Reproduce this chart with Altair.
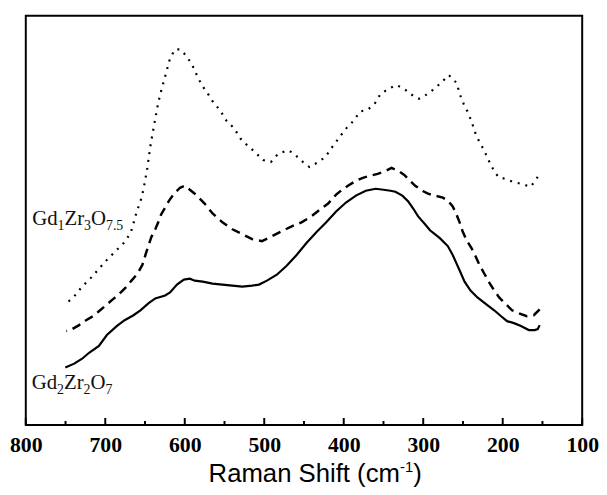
import altair as alt
import pandas as pd

# ---- data (Raman shift in cm-1, intensity in arbitrary units) ----
solid_shift = [750.3, 739.1, 729.1, 720.4, 708.0, 698.0, 685.6, 675.7, 664.5, 655.8, 645.8, 637.1, 624.7, 618.5,
               609.8, 601.1, 593.6, 587.4, 577.4, 565.0, 552.6, 540.1, 527.7, 515.3, 506.6, 496.6, 484.2, 471.8,
               459.3, 446.9, 434.5, 422.0, 409.6, 397.2, 384.7, 372.3, 359.9, 349.9, 341.2, 335.0, 326.3, 318.8,
               312.6, 306.4, 297.7, 291.5, 279.1, 269.1, 262.9, 257.9, 252.9, 248.0, 240.5, 231.8, 220.6, 210.7,
               202.0, 194.5, 185.8, 177.1, 167.1, 159.7, 155.9, 153.5]
solid_int = [58, 62, 67, 73, 80, 91, 100, 106, 111, 116, 123, 128, 131, 134, 142, 147, 148, 146, 145, 143,
             142, 141, 140, 141, 142, 146, 152, 161, 172, 184, 195, 205, 216, 225, 232, 237, 239, 238, 237, 236,
             232, 226, 219, 211, 203, 197, 189, 181, 172, 163, 154, 145, 136, 129, 122, 116, 110, 105, 103, 100,
             96, 96, 97, 101]

dash_shift = [749.0, 741.6, 732.9, 724.2, 715.5, 708.0, 699.3, 690.6, 683.1, 674.4, 667.0, 659.5, 653.3, 648.3,
              642.1, 637.1, 633.4, 629.7, 624.7, 619.7, 613.5, 606.0, 599.8, 593.6, 587.4, 581.2, 575.0, 565.0,
              552.6, 540.1, 527.7, 515.3, 502.8, 490.4, 478.0, 465.5, 453.1, 440.7, 428.2, 419.6, 409.6, 402.1,
              394.7, 384.7, 376.0, 367.3, 357.4, 347.4, 339.9, 331.3, 323.8, 316.4, 310.1, 301.4, 294.0, 285.3,
              275.3, 269.1, 262.9, 259.2, 254.2, 250.5, 245.5, 239.3, 234.3, 229.3, 223.1, 216.9, 210.7, 204.5,
              195.8, 188.3, 179.6, 169.6, 160.9, 153.5]
dash_int = [95, 97, 101, 106, 110, 115, 121, 127, 132, 139, 146, 153, 162, 175, 190, 198, 205, 213, 220, 227,
            234, 240, 242, 238, 234, 229, 224, 214, 205, 198, 193, 188, 186, 191, 196, 201, 205, 211, 219, 224,
            233, 238, 242, 247, 250, 252, 254, 257, 260, 257, 253, 247, 242, 237, 234, 232, 230, 227, 221, 215,
            205, 196, 187, 179, 171, 162, 153, 144, 136, 129, 122, 116, 113, 110, 111, 117]

dot_shift = [749.0, 739.1, 729.1, 717.9, 708.0, 698.0, 686.9, 676.9, 668.2, 664.5, 660.8, 655.8, 652.0, 647.1,
             643.3, 640.9, 638.4, 635.9, 633.4, 629.7, 625.9, 622.2, 618.5, 612.3, 606.0, 598.6, 591.1, 584.9,
             578.7, 570.0, 563.8, 555.1, 548.9, 537.7, 530.2, 521.5, 512.8, 501.6, 491.7, 482.9, 470.5, 463.1,
             454.4, 443.2, 432.0, 423.3, 414.6, 404.6, 395.9, 387.2, 379.8, 369.8, 361.1, 353.7, 343.7, 333.8,
             323.8, 312.6, 305.2, 296.5, 287.8, 277.8, 267.9, 257.9, 254.2, 249.2, 243.0, 238.0, 233.0, 226.8,
             220.6, 214.4, 205.7, 197.0, 187.0, 177.1, 164.7, 155.9]
dot_int = [123, 130, 140, 149, 158, 167, 176, 184, 194, 204, 215, 226, 238, 260, 282, 293, 304, 315, 326, 338,
           349, 360, 371, 380, 380, 374, 365, 354, 344, 334, 326, 318, 309, 300, 290, 283, 277, 268, 266, 274,
           278, 275, 268, 261, 266, 271, 281, 292, 301, 308, 317, 319, 325, 335, 340, 344, 340, 333, 330, 334,
           339, 346, 354, 346, 335, 325, 315, 304, 292, 283, 273, 262, 251, 249, 246, 244, 241, 251]

major_ticks = [800, 700, 600, 500, 400, 300, 200, 100]
minor_ticks = [750, 650, 550, 450, 350, 250, 150]

label_top = [("Gd", "n"), ("1", "s"), ("Zr", "n"), ("3", "s"), ("O", "n"), ("7.5", "s")]
label_bot = [("Gd", "n"), ("2", "s"), ("Zr", "n"), ("2", "s"), ("O", "n"), ("7", "s")]
title_parts = [("Raman Shift (cm", "n"), ("-1", "p"), (")", "n")]

# ---- layout helpers ----
W, H = 563, 414
SERIF_W = {"G": .722, "d": .5, "Z": .611, "r": .333, "O": .722, ".": .25}
SANS_W = {"R": .722, "a": .556, "m": .833, "n": .556, " ": .278, "S": .667, "h": .556, "i": .222,
          "f": .278, "t": .278, "(": .333, "c": .5, ")": .333, "-": .333, "1": .556}


def pieces(parts, x0, y0, big, small, shift, widths, default_w):
    rows = []
    x = x0
    for txt, kind in parts:
        fs = big if kind == "n" else small
        dy = 0 if kind == "n" else shift
        rows.append({"t": txt, "px": x, "py": y0 + dy, "fs": fs})
        x += sum(widths.get(ch, default_w) for ch in txt) * fs
    return rows


serif_rows = pieces(label_top, 6.5, 212, 21, 14, 5, SERIF_W, .5) + \
    pieces(label_bot, 6.0, 378, 21, 14, 5, SERIF_W, .5)
sans_rows = pieces(title_parts, 185, 472, 26, 15, -10, SANS_W, .556)

solid_df = pd.DataFrame({"shift": solid_shift, "intensity": solid_int})
dash_df = pd.DataFrame({"shift": dash_shift, "intensity": dash_int})
dot_df = pd.DataFrame({"shift": dot_shift, "intensity": dot_int})

xscale = alt.Scale(domain=[100, 800], reverse=True, nice=False, zero=False)
yscale = alt.Scale(domain=[0, 414], nice=False, zero=True)

xaxis = alt.Axis(values=major_ticks, title=None, domain=False, ticks=False, tickSize=0, grid=False,
                 labelFont="Liberation Serif", labelFontWeight="bold", labelFontSize=22,
                 labelColor="black", labelPadding=10, labelFlush=False)


def line(df, dash, width):
    kw = dict(color="black", strokeWidth=width, clip=False)
    if dash:
        kw["strokeDash"] = dash
    return alt.Chart(df).mark_line(**kw).encode(
        x=alt.X("shift:Q", scale=xscale, axis=xaxis),
        y=alt.Y("intensity:Q", scale=yscale, axis=None),
        order="shift:Q",
    )


solid = line(solid_df, None, 2.2)
dashed = line(dash_df, [9, 6], 2.5)
dotted = line(dot_df, [2, 6], 2.2)

major = alt.Chart(pd.DataFrame({"v": major_ticks})).mark_rule(color="black", strokeWidth=2).encode(
    x=alt.X("v:Q", scale=xscale), y=alt.value(H), y2=alt.value(H - 7))
minor = alt.Chart(pd.DataFrame({"v": minor_ticks})).mark_rule(color="black", strokeWidth=2).encode(
    x=alt.X("v:Q", scale=xscale), y=alt.value(H), y2=alt.value(H - 4))

serif_text = alt.Chart(pd.DataFrame(serif_rows)).mark_text(
    font="Liberation Serif", align="left", baseline="alphabetic", color="#111111").encode(
    x=alt.X("px:Q", scale=None), y=alt.Y("py:Q", scale=None), text="t:N",
    size=alt.Size("fs:Q", scale=None, legend=None))
sans_text = alt.Chart(pd.DataFrame(sans_rows)).mark_text(
    font="Liberation Sans", align="left", baseline="alphabetic", color="black").encode(
    x=alt.X("px:Q", scale=None), y=alt.Y("py:Q", scale=None), text="t:N",
    size=alt.Size("fs:Q", scale=None, legend=None))

chart = alt.layer(dotted, dashed, solid, major, minor, serif_text, sans_text).resolve_scale(
    x="shared").properties(
    width=W, height=H,
    autosize=alt.AutoSizeParams(type="none"),
    padding={"left": 18, "top": 5, "right": 17, "bottom": 66},
    background="white",
).configure_view(stroke="black", strokeWidth=2)

chart.save("out.html", embed_options={"renderer": "svg", "actions": False})
